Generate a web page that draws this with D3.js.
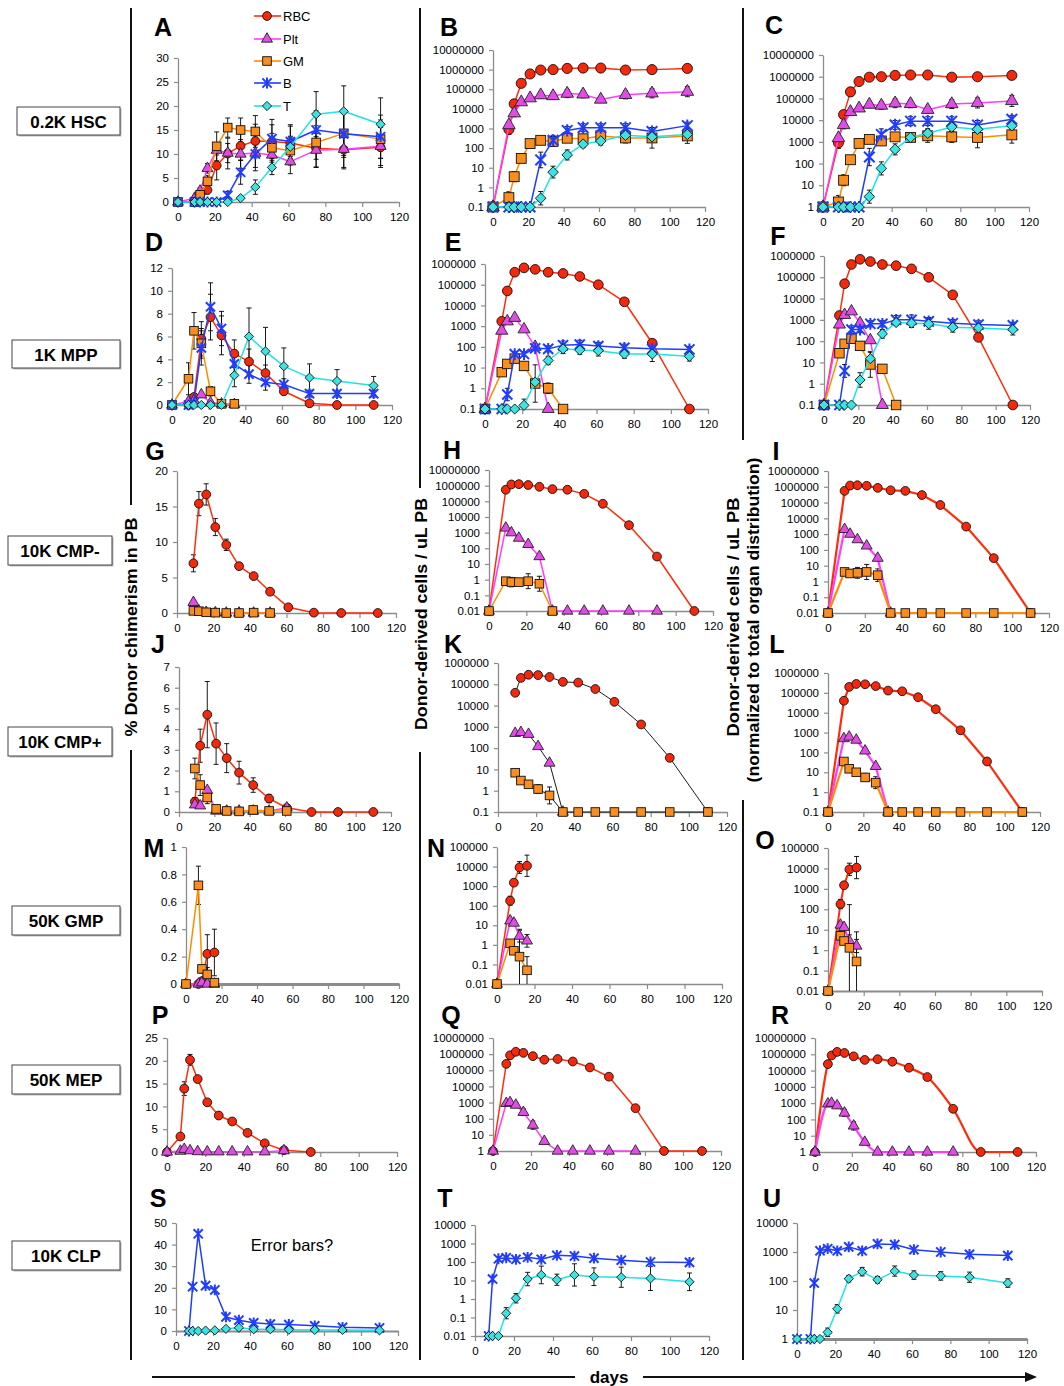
<!DOCTYPE html>
<html>
<head>
<meta charset="utf-8">
<script src="https://cdn.jsdelivr.net/npm/d3@7"></script>
<style>
body { margin: 0; background: #fff; }
svg { display: block; font-family: "Liberation Sans", Arial, sans-serif; }
</style>
</head>
<body>
<svg id="fig" width="1064" height="1386"></svg>
<script>
'use strict';

/************************************************ Data ******************************************************/

// sampling days
var DAYS = [0, 9, 12, 16, 21, 27, 34, 42, 51, 61, 75, 90, 110];
var DAYS_NO0 = [9, 12, 16, 21, 27, 34, 42, 51, 61, 75, 90, 110];
var DAYS_GMP = [0, 7, 9, 12, 16];
var DAYS_MEP = [0, 7, 9, 12, 16, 21, 27, 34, 42, 51, 61, 75, 90, 110];
var DAYS_CLP = [7, 9, 12, 16, 21, 27, 34, 42, 51, 61, 75, 90, 110];

// A - 0.2K HSC, % chimerism (errors are +/-)
var aRBC = [0, 0, 0.2, 2.5, 7.6, 10.1, 11.7, 12.7, 12.6, 12.3, 11.2, 10.9, 11.4];
var aRBCe = [0, 0, 0.3, 0.8, 3, 3.2, 3, 3.5, 3.5, 3.5, 4, 4, 4.2];
var aPlt = [0, 0.8, 2.3, 7, 10.8, 10.2, 10, 10.2, 9.8, 8.4, 10.8, 11, 11.6];
var aPlte = [0, 0.4, 0.6, 1, 1, 2, 3, 3, 3, 2.5, 3.5, 3.8, 4];
var aGM = [0, 0, 1.5, 4.3, 11.6, 15.5, 15, 14.7, 11.3, 10.7, 12.4, 14.3, 13.1];
var aGMe = [0, 0, 0.8, 1.2, 3, 2, 2.5, 3.3, 3, 3, 3.5, 5, 4];
var aB = [0, 0, 0, 0, 0, 1.4, 6.2, 10, 13.2, 12.6, 15, 14.2, 13.6];
var aBe = [0, 0, 0, 0, 0, 0.8, 2.5, 3.5, 4, 3.5, 4, 4.5, 4.5];
var aT = [0, 0, 0, 0, 0, 0, 0.8, 3.1, 7.2, 11.5, 18.3, 18.9, 16.2];
var aTe = [0, 0, 0, 0, 0, 0, 0.3, 1.5, 1.5, 2, 4.7, 5.3, 5.5];

// B - cells / uL PB (log errors are multiplicative factors)
var bRBC = [0.1, 900, 18000, 200000, 600000, 950000, 1000000, 1150000, 1200000, 1200000, 950000, 1000000, 1150000];
var bRBCe = [1, 1.8, 1.3, 1.6, 1.3, 1.3, 1.2, 1.2, 1.2, 1.3, 1.2, 1.4, 1.5];
var bPlt = [0.1, 1500, 6000, 22000, 35000, 50000, 45000, 60000, 55000, 30000, 52000, 62000, 75000];
var bPlte = [1, 1.3, 1.5, 1.3, 1.3, 1.4, 1.5, 1.6, 1.5, 1.4, 1.6, 1.7, 1.8];
var bGM = [0.1, 0.3, 3.5, 30, 170, 250, 220, 320, 300, 420, 330, 330, 420];
var bGMe = [1, 2, 1.8, 1.5, 1.3, 1.5, 1.8, 1.5, 1.6, 2, 1.8, 3.3, 2.4];
var bB = [0.1, 0.1, 0.1, 0.1, 0.1, 25, 250, 800, 1100, 1100, 1100, 700, 1400];
var bBe = [1, 1, 1, 1, 1, 2.5, 1.8, 1.6, 1.6, 1.6, 1.6, 1.6, 1.5];
var bT = [0.1, 0.1, 0.1, 0.1, 0.1, 0.28, 6, 45, 160, 230, 450, 380, 500];
var bTe = [1, 1, 1, 1, 1, 2.2, 2, 1.8, 1.5, 1.6, 1.7, 1.5, 1.5];

// C - normalized to organ distribution
var cRBC = [1, 900, 18000, 200000, 600000, 950000, 1000000, 1150000, 1200000, 1200000, 950000, 1000000, 1150000];
var cPlt = [1, 1500, 6000, 24000, 35000, 52000, 47000, 60000, 56000, 30000, 55000, 62000, 77000];
var cGM = [1, 1.7, 17, 150, 850, 1300, 1100, 1700, 1600, 1900, 1700, 1600, 2100];
var cGMe = [1, 2, 1.8, 1.5, 1.3, 1.4, 1.5, 1.5, 1.5, 2, 1.8, 3, 2.4];
var cB = [1, 1, 1, 1, 1, 200, 2200, 6000, 9000, 9000, 9000, 6000, 11000];
var cT = [1, 1, 1, 1, 1, 3, 60, 450, 1600, 2500, 4800, 3800, 5500];
var cTe = [1, 1, 1, 1, 1, 2, 2, 1.8, 1.5, 1.6, 1.6, 1.5, 1.5];

// D - 1K MPP
var dRBC = [0, 0, 0.7, 5.8, 7.7, 6.1, 4.5, 3.8, 2.8, 1.2, 0.15, 0, 0];
var dRBCe = [0, 0, 0.3, 1.5, 2, 1.7, 1.2, 1.1, 0.7, 0.3, 0.1, 0, 0];
var dPlt = [0, 0.3, 0.4, 0.9, 0.2, 0.1, 0.05, null, null, null, null, null, null];
var dGM = [0, 2.3, 6.5, 5.4, 1.2, 0.1, 0.1, null, null, null, null, null, null];
var dGMe = [0, 1.4, 1.6, 1.3, 0.4, 0.1, 0.1, 0, 0, 0, 0, 0, 0];
var dB = [0, 0, 0.2, 5, 8.6, 6.7, 3.6, 2.7, 2, 1.8, 1, 1, 1];
var dBe = [0, 0, 0.2, 1.5, 2.1, 1.5, 1, 0.8, 0.7, 0.5, 0.3, 0.3, 0.3];
var dT = [0, 0, 0, 0, 0, 0, 2.6, 6, 4.7, 3.4, 2.4, 2.1, 1.7];
var dTe = [0, 0, 0, 0, 0, 0, 1, 2.5, 2.1, 1.6, 1.2, 1, 0.8];

// E
var eRBC = [0.1, 1700, 50000, 400000, 650000, 550000, 400000, 350000, 250000, 100000, 15000, 150, 0.1];
var ePlt = [0.1, 600, 1700, 2500, 700, 100, 0.1, null, null, null, null, null, null];
var eGM = [0.1, 6, 15, 27, 12, 1.7, 1, 0.1, null, null, null, null, null];
var eGMe = [1, 1.6, 1.5, 1.5, 1.6, 8, 1.8, 1, 1, 1, 1, 1, 1];
var eB = [0.1, 0.1, 0.5, 45, 45, 85, 80, 120, 130, 110, 90, 80, 75];
var eBe = [1, 1, 2, 1.3, 1.3, 1.3, 1.4, 1.6, 1.6, 1.5, 1.5, 1.5, 1.4];
var eT = [0.1, 0.1, 0.1, 0.1, 0.15, 2, 22, 80, 70, 65, 45, 45, 35];
var eTe = [1, 1, 1, 1, 2, 1, 1.6, 1.7, 1.6, 1.8, 1.6, 2.3, 1.7];

// F
var fRBC = [0.1, 1600, 50000, 400000, 700000, 550000, 400000, 350000, 250000, 100000, 15000, 150, 0.1];
var fPlt = [0.1, 600, 1700, 2500, 700, 110, 0.1, null, null, null, null, null, null];
var fGM = [0.1, 27, 75, 130, 60, 8, 5, 0.1, null, null, null, null, null];
var fGMe = [1, 1.6, 1.5, 1.6, 1.6, 4, 1.5, 1, 1, 1, 1, 1, 1];
var fB = [0.1, 0.1, 4, 350, 350, 650, 650, 1000, 1000, 850, 700, 600, 550];
var fBe = [1, 1, 2, 1.5, 1.4, 1.4, 1.4, 1.6, 1.7, 1.5, 1.5, 1.5, 1.4];
var fT = [0.1, 0.1, 0.1, 0.1, 1.5, 15, 220, 750, 700, 650, 450, 420, 350];
var fTe = [1, 1, 1, 1, 2.2, 2, 1.6, 1.4, 1.6, 1.8, 1.7, 1.6, 1.8];

// G - 10K CMP-
var gRBC = [7, 15.4, 16.7, 12.1, 9.6, 6.6, 5.2, 3, 0.8, 0.05, 0, 0];
var gRBCe = [1.2, 1.7, 1.5, 1.2, 0.8, 0.5, 0.3, 0.4, 0.3, 0, 0, 0];
var gPlt = [1.5, 0.3, 0.1, 0.05, 0, 0, 0, 0, null, null, null, null];
var gGM = [0.3, 0.25, 0.1, 0.05, 0, 0, 0.05, 0, null, null, null, null];

// H
var hRBC = [0.01, 550000, 1200000, 1250000, 1100000, 850000, 600000, 550000, 300000, 70000, 3000, 30, 0.01];
var hPlt = [0.01, 2000, 1000, 450, 180, 30, 0.01, 0.01, 0.01, 0.01, 0.01, 0.01, null];
var hGM = [0.01, 0.8, 0.7, 0.7, 0.8, 0.55, 0.01, null, null, null, null, null, null];
var hGMe = [1, 1.6, 2, 1.6, 3, 3, 1, 1, 1, 1, 1, 1, 1];

// I
var iRBC = [0.01, 550000, 1200000, 1250000, 1150000, 850000, 600000, 550000, 300000, 70000, 3000, 30, 0.01];
var iPlt = [0.01, 2000, 1000, 450, 180, 30, 0.01, null, null, null, null, null, null];
var iGM = [0.01, 4, 3.2, 3.5, 4, 2.5, 0.01, 0.01, 0.01, 0.01, 0.01, 0.01, 0.01];
var iGMe = [1, 1.5, 1.6, 2.2, 3, 2.5, 1, 1, 1, 1, 1, 1, 1];

// J - 10K CMP+
var jRBC = [0.5, 3.2, 4.7, 3.3, 2.6, 1.9, 1.3, 0.65, 0.2, 0, 0, 0];
var jRBCe = [0.2, 0.8, 1.6, 1, 0.7, 0.55, 0.35, 0.2, 0.1, 0, 0, 0];
var jPlt = [0.35, 0.3, 1.05, 0.05, 0.05, 0.05, 0.05, 0.05, 0.2, null, null, null];
var jGM = [2.1, 1.3, 0.7, 0.15, 0.05, 0.03, 0.1, 0.05, 0.05, null, null, null];
var jGMe = [0.5, 0.5, 0.3, 0.1, 0, 0, 0.05, 0, 0, 0, 0, 0];

// K
var kRBC = [40000, 200000, 280000, 270000, 220000, 130000, 120000, 60000, 15000, 1300, 35, 0.1];
var kPlt = [500, 550, 450, 120, 20, 0.1, null, null, null, null, null, null];
var kGM = [7, 3, 2, 1.2, 0.6, 0.1, 0.1, 0.1, 0.1, 0.1, 0.1, 0.1];
var kGMe = [1.3, 1.3, 1.4, 1.6, 2.5, 1, 1, 1, 1, 1, 1, 1];

// L
var lRBC = [0.1, 40000, 200000, 280000, 270000, 220000, 130000, 120000, 60000, 15000, 1300, 35, 0.1];
var lPlt = [0.1, 500, 600, 420, 120, 20, 0.1, null, null, null, null, null, null];
var lGM = [0.1, 35, 15, 10, 5.5, 3, 0.1, 0.1, 0.1, 0.1, 0.1, 0.1, 0.1];
var lGMe = [1, 1.3, 1.4, 1.4, 1.6, 2, 1, 1, 1, 1, 1, 1, 1];

// M - 50K GMP
var mRBC = [0, 0, 0.02, 0.22, 0.23];
var mRBCe = [0, 0, 0.02, 0.14, 0.17];
var mPlt = [0, 0, 0.01, 0, 0];
var mGM = [0, 0.72, 0.11, 0.07, 0.01];
var mGMe = [0, 0.14, 0.03, 0.05, 0];

// N
var nRBC = [0.01, 180, 1500, 9000, 11000];
var nRBCe = [1, 1.7, 1.3, 2, 3.5];
var nPlt = [0.01, 17, 13, 2.8, 1.6];
var nPlte = [1, 1.3, 1.3, 2, 2.1];
var nGM = [0.01, 1.2, 0.5, 0.25, 0.05];
var nGMe = [1, 1.2, 1.3, 25, 5];

// O
var oRBC = [0.01, 180, 1500, 9000, 11000];
var oPlt = [0.01, 17, 13, 2.8, 1.6];
var oGM = [0.01, 5, 2.8, 1.3, 0.28];
var oGMe = [1, 1.4, 1.3, 130, 28];

// P - 50K MEP
var pRBC = [0, 3.4, 13.9, 20.2, 16, 10.9, 8, 6.7, 4.2, 1.9, 0.4, 0, null, null];
var pRBCe = [0, 0.3, 1.5, 1.2, 0.5, 0.4, 0.3, 0.3, 0.3, 0.2, 0.1, 0, 0, 0];
var pPlt = [0, 0.2, 0.6, 0.3, 0.1, 0.05, 0.05, 0.05, 0.05, 0.05, 0.3, null, null, null];

// Q
var qRBC = [1, 250000, 850000, 1400000, 1200000, 750000, 450000, 500000, 350000, 150000, 40000, 450, 1, 1];
var qRBCe = [1, 1.3, 1.3, 1.3, 1.3, 1.3, 1.3, 1.3, 1.4, 1.4, 1.4, 1.4, 1, 1];
var qPlt = [1, 900, 1000, 700, 250, 40, 4, 1, 1, 1, 1, 1, null, null];
var qPlte = [1, 1.3, 1.3, 1.4, 1.6, 1.8, 1.4, 1, 1, 1, 1, 1, 1, 1];

// R
var rRBC = [1, 250000, 850000, 1400000, 1200000, 750000, 450000, 500000, 350000, 150000, 40000, 450, 1, 1];
var rPlt = [1, 900, 1000, 700, 250, 40, 4, 1, 1, 1, 1, 1, null, null];

// S - 10K CLP
var sB = [0, 20.5, 45, 21, 19, 6.5, 5, 3.8, 3.2, 3, 2.4, 1.7, 1.4];
var sT = [0, 0, 0, 0.2, 0.3, 1, 1.5, 0.8, 0.8, 0.6, 0.5, 0.5, 0.3];

// T
var tB = [0.01, 12, 150, 170, 140, 180, 140, 230, 210, 160, 125, 100, 95];
var tBe = [1, 1.4, 1.3, 1.2, 1.2, 1.2, 1.2, 1.2, 1.3, 1.2, 1.2, 1.2, 1.2];
var tT = [0.01, 0.01, 0.01, 0.17, 1.1, 12, 20, 11, 20, 16, 15, 13, 8.5];
var tTe = [1, 1, 1, 2, 1.8, 2.3, 3, 2, 4, 3, 3.5, 4.5, 3];

// U
var uB = [1, 1, 85, 1100, 1300, 1100, 1500, 1100, 1900, 1800, 1200, 1000, 830, 750];
var uT = [1, 1, 1, 1, 1.7, 11, 120, 210, 110, 220, 160, 150, 135, 85];
var uTe = [1, 1, 1, 1, 1.4, 1.4, 1.3, 1.4, 1.3, 1.5, 1.4, 1.4, 1.5, 1.4];

var legendNames = ['RBC', 'Plt', 'GM', 'B', 'T'];
var rowLabels = ['0.2K HSC', '1K MPP', '10K CMP-', '10K CMP+', '50K GMP', '50K MEP', '10K CLP'];

/************************************************ Styles ******************************************************/

var STYLE = {
    RBC: { line: '#ff2d0a', fill: '#f4290c', sym: 'circle' },
    Plt: { line: '#ff3cff', fill: '#e24ce6', sym: 'triangle' },
    GM: { line: '#ff8c00', fill: '#f98d1e', sym: 'square' },
    B: { line: '#1f3cff', fill: 'none', sym: 'asterisk' },
    T: { line: '#1fe3e6', fill: '#3de2e2', sym: 'diamond' }
};

function s(k, d, v, e) {
    return { k: k, d: d, v: v, e: e };
}

// layout: x = px of day 0 / day 120, y = px of bottom / top of the value axis
var panels = [
    { id: 'A', x: [178, 399], y: [202, 58], log: false, dom: [0, 30], step: 5, L: [163, 27],
        series: [s('RBC', DAYS, aRBC, aRBCe), s('Plt', DAYS, aPlt, aPlte), s('GM', DAYS, aGM, aGMe), s('B', DAYS, aB, aBe), s('T', DAYS, aT, aTe)] },
    { id: 'B', x: [493, 705], y: [207, 50], log: true, dom: [0.1, 1e7], L: [449, 27], ms: 1.15,
        series: [s('RBC', DAYS, bRBC, bRBCe), s('Plt', DAYS, bPlt, bPlte), s('GM', DAYS, bGM, bGMe), s('B', DAYS, bB, bBe), s('T', DAYS, bT, bTe)] },
    { id: 'C', x: [823, 1029], y: [207, 55], log: true, dom: [1, 1e7], L: [774, 25], ms: 1.15,
        series: [s('RBC', DAYS, cRBC, bRBCe), s('Plt', DAYS, cPlt, bPlte), s('GM', DAYS, cGM, cGMe), s('B', DAYS, cB, bBe), s('T', DAYS, cT, cTe)] },
    { id: 'D', x: [172, 392], y: [405, 268], log: false, dom: [0, 12], step: 2, L: [154, 242],
        series: [s('RBC', DAYS, dRBC, dRBCe), s('Plt', DAYS, dPlt), s('GM', DAYS, dGM, dGMe), s('B', DAYS, dB, dBe), s('T', DAYS, dT, dTe)] },
    { id: 'E', x: [485, 708], y: [409, 264], log: true, dom: [0.1, 1e6], L: [453, 242], ms: 1.1,
        series: [s('RBC', DAYS, eRBC), s('Plt', DAYS, ePlt), s('GM', DAYS, eGM, eGMe), s('B', DAYS, eB, eBe), s('T', DAYS, eT, eTe)] },
    { id: 'F', x: [824, 1030], y: [405, 256], log: true, dom: [0.1, 1e6], L: [778, 236], ms: 1.1,
        series: [s('RBC', DAYS, fRBC), s('Plt', DAYS, fPlt), s('GM', DAYS, fGM, fGMe), s('B', DAYS, fB, fBe), s('T', DAYS, fT, fTe)] },
    { id: 'G', x: [177, 396], y: [613, 471], log: false, dom: [0, 20], step: 5, L: [155, 451],
        series: [s('RBC', DAYS_NO0, gRBC, gRBCe), s('Plt', DAYS_NO0, gPlt), s('GM', DAYS_NO0, gGM)] },
    { id: 'H', x: [489, 713], y: [611, 470], log: true, dom: [0.01, 1e7], L: [452, 450],
        series: [s('RBC', DAYS, hRBC), s('Plt', DAYS, hPlt), s('GM', DAYS, hGM, hGMe)] },
    { id: 'I', x: [828, 1049], y: [613, 471], log: true, dom: [0.01, 1e7], L: [776, 451], lw: 2.2,
        series: [s('RBC', DAYS, iRBC), s('Plt', DAYS, iPlt), s('GM', DAYS, iGM, iGMe)] },
    { id: 'J', x: [179, 391], y: [812, 667], log: false, dom: [0, 7], step: 1, L: [158, 644],
        series: [s('RBC', DAYS_NO0, jRBC, jRBCe), s('Plt', DAYS_NO0, jPlt), s('GM', DAYS_NO0, jGM, jGMe)] },
    { id: 'K', x: [498, 727], y: [812, 663], log: true, dom: [0.1, 1e6], L: [453, 644], lw: 0.9, black: true,
        series: [s('RBC', DAYS_NO0, kRBC), s('Plt', DAYS_NO0, kPlt), s('GM', DAYS_NO0, kGM, kGMe)] },
    { id: 'L', x: [828, 1040], y: [812, 673], log: true, dom: [0.1, 1e6], L: [777, 644], lw: 2.2,
        series: [s('RBC', DAYS, lRBC), s('Plt', DAYS, lPlt), s('GM', DAYS, lGM, lGMe)] },
    { id: 'M', x: [186, 399], y: [984, 847], log: false, dom: [0, 1], step: 0.2, L: [154, 848], aw: 3,
        series: [s('RBC', DAYS_GMP, mRBC, mRBCe), s('Plt', DAYS_GMP, mPlt), s('GM', DAYS_GMP, mGM, mGMe)] },
    { id: 'N', x: [497, 722], y: [984, 847], log: true, dom: [0.01, 1e5], L: [436, 848],
        series: [s('RBC', DAYS_GMP, nRBC, nRBCe), s('Plt', DAYS_GMP, nPlt, nPlte), s('GM', DAYS_GMP, nGM, nGMe)] },
    { id: 'O', x: [828, 1042], y: [991, 848], log: true, dom: [0.01, 1e5], L: [765, 840], aw: 2, lw: 2,
        series: [s('RBC', DAYS_GMP, oRBC, nRBCe), s('Plt', DAYS_GMP, oPlt, nPlte), s('GM', DAYS_GMP, oGM, oGMe)] },
    { id: 'P', x: [167, 397], y: [1152, 1038], log: false, dom: [0, 25], step: 5, L: [160, 1015],
        series: [s('RBC', DAYS_MEP, pRBC, pRBCe), s('Plt', DAYS_MEP, pPlt)] },
    { id: 'Q', x: [493, 721], y: [1151, 1038], log: true, dom: [1, 1e7], L: [451, 1015],
        series: [s('RBC', DAYS_MEP, qRBC, qRBCe), s('Plt', DAYS_MEP, qPlt, qPlte)] },
    { id: 'R', x: [815, 1036], y: [1152, 1038], log: true, dom: [1, 1e7], L: [780, 1015], lw: 2.2, smooth: true,
        series: [s('RBC', DAYS_MEP, rRBC, qRBCe), s('Plt', DAYS_MEP, rPlt, qPlte)] },
    { id: 'S', x: [176, 398], y: [1331, 1223], log: false, dom: [0, 50], step: 10, L: [158, 1198], aw: 2,
        series: [s('B', DAYS_CLP, sB), s('T', DAYS_CLP, sT)] },
    { id: 'T', x: [475, 709], y: [1336, 1225], log: true, dom: [0.01, 1e4], L: [445, 1198],
        series: [s('B', DAYS_CLP, tB, tBe), s('T', DAYS_CLP, tT, tTe)] },
    { id: 'U', x: [797, 1027], y: [1339, 1223], log: true, dom: [1, 1e4], L: [772, 1198], aw: 3,
        series: [s('B', DAYS_MEP, uB), s('T', DAYS_MEP, uT, uTe)] }
];

var svg = d3.select('#fig');

/************************************************ Helpers ******************************************************/

function drawMarker(g, kind, cx, cy, scale) {
    var st = STYLE[kind],
        m = scale || 1,
        h;
    if (st.sym === 'circle') {
        g.append('circle').attr('cx', cx).attr('cy', cy).attr('r', 4.4 * m)
            .attr('fill', st.fill).attr('stroke', '#111').attr('stroke-width', 0.9);
    } else if (st.sym === 'square') {
        h = 8.6 * m;
        g.append('rect').attr('x', cx - h / 2).attr('y', cy - h / 2).attr('width', h).attr('height', h)
            .attr('fill', st.fill).attr('stroke', '#111').attr('stroke-width', 0.9);
    } else if (st.sym === 'triangle') {
        g.append('path').attr('d', d3.symbol(d3.symbolTriangle, 52 * m * m)())
            .attr('transform', 'translate(' + cx + ',' + cy + ')')
            .attr('fill', st.fill).attr('stroke', '#222').attr('stroke-width', 0.9);
    } else if (st.sym === 'diamond') {
        // rotated square, as Excel draws it
        h = 4.6 * m;
        g.append('path').attr('d', 'M0,' + (-h) + 'L' + h + ',0L0,' + h + 'L' + (-h) + ',0Z')
            .attr('transform', 'translate(' + cx + ',' + cy + ')')
            .attr('fill', st.fill).attr('stroke', '#111').attr('stroke-width', 0.9);
    } else {
        h = 4.6 * m;
        g.append('path')
            .attr('d', 'M' + (-h) + ',' + (-h) + 'L' + h + ',' + h + 'M' + (-h) + ',' + h + 'L' + h + ',' + (-h) +
                'M0,' + (-h - 0.8) + 'L0,' + (h + 0.8))
            .attr('transform', 'translate(' + cx + ',' + cy + ')')
            .attr('fill', 'none').attr('stroke', st.line).attr('stroke-width', 2);
    }
}

function logFmt(v) {
    return v >= 1 ? d3.format('d')(v) : String(v);
}

/************************************************ Panels ******************************************************/

function drawPanel(p) {
    var g = svg.append('g').attr('class', 'panel-' + p.id),
        x = d3.scaleLinear().domain([0, 120]).range(p.x),
        y,
        yTicks,
        fmt,
        aw = p.aw || 1.3,
        lw = p.lw || 1.5;

    if (p.log) {
        y = d3.scaleLog().domain(p.dom).range(p.y);
        yTicks = d3.range(Math.round(Math.log10(p.dom[0])), Math.round(Math.log10(p.dom[1])) + 1)
            .map(function (k) { return +('1e' + k); });
        fmt = logFmt;
    } else {
        y = d3.scaleLinear().domain(p.dom).range(p.y);
        yTicks = d3.range(0, Math.round(p.dom[1] / p.step) + 1).map(function (i) { return +(i * p.step).toFixed(2); });
        fmt = d3.format('~g');
    }

    // axes
    var gx = g.append('g').attr('transform', 'translate(0,' + p.y[0] + ')')
        .call(d3.axisBottom(x).tickValues(d3.range(0, 121, 20)).tickSize(5).tickSizeOuter(0).tickPadding(6));
    var gy = g.append('g').attr('transform', 'translate(' + p.x[0] + ',0)')
        .call(d3.axisLeft(y).tickValues(yTicks).tickFormat(fmt).tickSize(4).tickSizeOuter(0).tickPadding(5));
    [gx, gy].forEach(function (ax) {
        ax.select('.domain').attr('stroke', '#8c8c8c').attr('stroke-width', 1.3);
        ax.selectAll('.tick line').attr('stroke', '#8c8c8c').attr('stroke-width', 1.2);
        ax.selectAll('.tick text').attr('fill', '#000').attr('font-size', '11.5px')
            .attr('font-family', '"Liberation Sans", Arial, sans-serif');
    });
    gx.select('.domain').attr('stroke-width', aw);

    // error bars
    var eg = g.append('g').attr('class', 'errors');
    p.series.forEach(function (se) {
        if (!se.e) {
            return;
        }
        se.d.forEach(function (day, i) {
            var v = se.v[i],
                e = se.e[i],
                lo,
                hi;
            if (v === null || v === undefined || !e || (p.log && e <= 1)) {
                return;
            }
            if (p.log) {
                lo = Math.max(v / e, p.dom[0]);
                hi = Math.min(v * e, p.dom[1]);
            } else {
                lo = Math.max(v - e, p.dom[0]);
                hi = Math.min(v + e, p.dom[1]);
            }
            var cx = x(day);
            eg.append('line').attr('x1', cx).attr('x2', cx).attr('y1', y(lo)).attr('y2', y(hi))
                .attr('stroke', '#000').attr('stroke-width', 0.9);
            [lo, hi].forEach(function (b) {
                if (b > p.dom[0]) {
                    eg.append('line').attr('x1', cx - 2.5).attr('x2', cx + 2.5).attr('y1', y(b)).attr('y2', y(b))
                        .attr('stroke', '#000').attr('stroke-width', 0.9);
                }
            });
        });
    });

    // lines and markers, series in legend order
    p.series.forEach(function (se) {
        var pts = se.d.map(function (day, i) { return [day, se.v[i]]; }),
            line = d3.line()
                .defined(function (d) { return d[1] !== null && d[1] !== undefined; })
                .x(function (d) { return x(d[0]); })
                .y(function (d) { return y(d[1]); })
                .curve(p.smooth ? d3.curveMonotoneX : d3.curveLinear);
        g.append('path').datum(pts).attr('d', line).attr('fill', 'none')
            .attr('stroke', p.black ? '#000' : STYLE[se.k].line).attr('stroke-width', lw)
            .attr('stroke-linejoin', 'round');
        pts.forEach(function (d) {
            if (d[1] !== null && d[1] !== undefined) {
                drawMarker(g, se.k, x(d[0]), y(d[1]), p.ms);
            }
        });
    });

    // panel letter
    g.append('text').attr('x', p.L[0]).attr('y', p.L[1]).attr('text-anchor', 'middle')
        .attr('dominant-baseline', 'central').attr('font-weight', 'bold').attr('font-size', '25px')
        .text(p.id);
}

panels.forEach(drawPanel);

/************************************************ Legend (panel A) ******************************************************/

var legendY = [16, 39, 61, 83, 106];
legendNames.forEach(function (name, i) {
    var lg = svg.append('g');
    lg.append('line').attr('x1', 254).attr('x2', 281).attr('y1', legendY[i]).attr('y2', legendY[i])
        .attr('stroke', STYLE[name].line).attr('stroke-width', 1.6);
    drawMarker(lg, name, 267, legendY[i], 1);
    lg.append('text').attr('x', 283).attr('y', legendY[i]).attr('dominant-baseline', 'central')
        .attr('font-size', '13px').text(name);
});

/************************************************ Row labels, separators, titles ******************************************************/

var rowBoxes = [[17, 107, 103, 28], [12, 340, 108, 28], [8, 536, 104, 29], [8, 727, 104, 29],
    [12, 906, 108, 29], [12, 1065, 108, 29], [12, 1241, 108, 29]];
rowLabels.forEach(function (lbl, i) {
    var b = rowBoxes[i];
    svg.append('rect').attr('x', b[0] + 1.5).attr('y', b[1] + 1.5).attr('width', b[2]).attr('height', b[3])
        .attr('fill', '#bbb');
    svg.append('rect').attr('x', b[0]).attr('y', b[1]).attr('width', b[2]).attr('height', b[3])
        .attr('fill', '#fff').attr('stroke', '#444').attr('stroke-width', 1);
    svg.append('text').attr('x', b[0] + b[2] / 2).attr('y', b[1] + b[3] / 2 + 1)
        .attr('text-anchor', 'middle').attr('dominant-baseline', 'central')
        .attr('font-weight', 'bold').attr('font-size', '17px').text(lbl);
});

var seps = [[131, 8, 505], [131, 750, 1360], [420, 8, 488], [420, 752, 1360], [743, 8, 440], [743, 800, 1360]];
seps.forEach(function (l) {
    svg.append('line').attr('x1', l[0]).attr('x2', l[0]).attr('y1', l[1]).attr('y2', l[2])
        .attr('stroke', '#111').attr('stroke-width', 2);
});

var vTitles = [
    ['% Donor chimerism in PB', 131, 627, 219],
    ['Donor-derived cells / uL PB', 421, 614, 232],
    ['Donor-derived cells / uL PB', 733, 617, 239],
    ['(normalized to total organ distribution)', 753, 620, 325]
];
vTitles.forEach(function (t) {
    svg.append('text').attr('transform', 'translate(' + t[1] + ',' + t[2] + ') rotate(-90)')
        .attr('text-anchor', 'middle').attr('dominant-baseline', 'central')
        .attr('font-weight', 'bold').attr('font-size', '16px')
        .attr('textLength', t[3]).attr('lengthAdjust', 'spacingAndGlyphs').text(t[0]);
});

svg.append('text').attr('x', 292).attr('y', 1245).attr('text-anchor', 'middle').attr('dominant-baseline', 'central')
    .attr('font-size', '16.5px').text('Error bars?');

// bottom days arrow
svg.append('line').attr('x1', 152).attr('x2', 575).attr('y1', 1377).attr('y2', 1377).attr('stroke', '#111').attr('stroke-width', 2);
svg.append('line').attr('x1', 643).attr('x2', 1028).attr('y1', 1377).attr('y2', 1377).attr('stroke', '#111').attr('stroke-width', 2);
svg.append('path').attr('d', 'M1025,1372 L1037,1377 L1025,1382 Z').attr('fill', '#111');
svg.append('text').attr('x', 609).attr('y', 1377).attr('text-anchor', 'middle').attr('dominant-baseline', 'central')
    .attr('font-weight', 'bold').attr('font-size', '17px').text('days');
</script>
</body>
</html>
